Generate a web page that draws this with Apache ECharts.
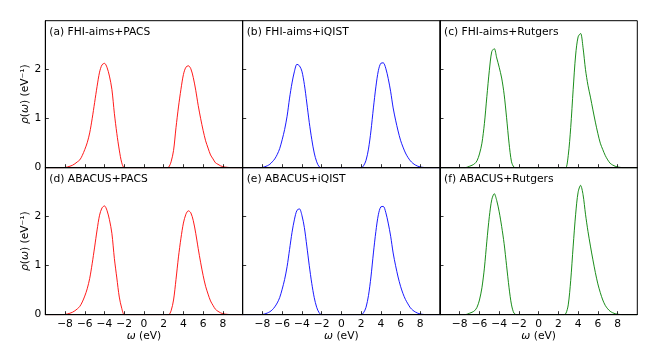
<!DOCTYPE html>
<html>
<head>
<meta charset="utf-8">
<script src="https://cdn.jsdelivr.net/npm/echarts@6/dist/echarts.min.js"></script>
<style>html,body{margin:0;padding:0;background:#fff}#c{width:664px;height:357px}</style>
</head>
<body>
<div id="c"></div>
<script>
const omega = [-10,-9.75,-9.5,-9.25,-9,-8.75,-8.5,-8.25,-8,-7.75,-7.5,-7.25,-7,-6.75,-6.5,-6.25,-6,-5.75,-5.5,-5.25,-5,-4.75,-4.5,-4.25,-4,-3.75,-3.5,-3.25,-3,-2.75,-2.5,-2.25,-2,-1.75,-1.5,-1.25,-1,-0.75,-0.5,-0.25,0,0.25,0.5,0.75,1,1.25,1.5,1.75,2,2.25,2.5,2.75,3,3.25,3.5,3.75,4,4.25,4.5,4.75,5,5.25,5.5,5.75,6,6.25,6.5,6.75,7,7.25,7.5,7.75,8,8.25,8.5,8.75,9,9.25,9.5,9.75,10];

const fhiPacs = [0,0,0,0, 0,0,0,0, 0.005,0.015,0.03,0.05, 0.08,0.12,0.16,0.25, 0.37,0.51,0.71,1.0, 1.33,1.66,1.95,2.1, 2.13,2.05,1.87,1.6, 1.11,0.7,0.36,0.1, 0,0,0,0, 0,0,0,0, 0,0,0,0, 0,0,0,0, 0,0,0.01,0.12, 0.35,0.82,1.24,1.6, 1.9,2.05,2.08,2.02, 1.84,1.58,1.27,1.0, 0.76,0.55,0.4,0.26, 0.18,0.1,0.07,0.04, 0.02,0.012,0.006,0.002, 0,0,0,0, 0];
const fhiIqist = [0,0,0,0, 0,0,0,0, 0.005,0.02,0.04,0.07, 0.12,0.18,0.27,0.39, 0.57,0.78,1.05,1.42, 1.73,1.97,2.11,2.08, 1.97,1.7,1.32,0.92, 0.58,0.3,0.12,0.02, 0,0,0,0, 0,0,0,0, 0,0,0,0, 0,0,0,0, 0,0.04,0.15,0.38, 0.75,1.22,1.65,1.98, 2.13,2.14,2.03,1.82, 1.55,1.22,0.97,0.75, 0.56,0.42,0.3,0.21, 0.14,0.09,0.055,0.03, 0.015,0.007,0.002,0, 0,0,0,0, 0];
const fhiRutgers = [0,0,0,0, 0,0,0,0, 0,0,0,0.01, 0.03,0.05,0.08,0.14, 0.28,0.5,0.9,1.45, 1.98,2.37,2.43,2.24, 2.05,1.83,1.5,1.02, 0.5,0.12,0.01,0, 0,0,0,0, 0,0,0,0, 0,0,0,0, 0,0,0,0, 0,0,0,0, 0.25,0.82,1.6,2.3, 2.67,2.74,2.45,2.0, 1.68,1.44,1.18,0.93, 0.7,0.5,0.37,0.25, 0.16,0.09,0.055,0.03, 0.015,0.007,0,0, 0,0,0,0, 0];
const abacusPacs = [0,0,0,0, 0,0,0,0, 0.005,0.016,0.03,0.05, 0.08,0.12,0.17,0.26, 0.38,0.53,0.74,1.04, 1.38,1.73,2.03,2.18, 2.22,2.13,1.94,1.66, 1.15,0.75,0.36,0.13, 0,0,0,0, 0,0,0,0, 0,0,0,0, 0,0,0,0, 0,0,0,0.08, 0.3,0.72,1.18,1.56, 1.87,2.05,2.12,2.08, 1.92,1.66,1.35,1.06, 0.8,0.58,0.42,0.28, 0.19,0.11,0.07,0.04, 0.02,0.012,0.006,0.002, 0,0,0,0, 0];
const abacusIqist = [0,0,0,0, 0,0,0,0, 0.005,0.015,0.035,0.06, 0.1,0.16,0.24,0.35, 0.52,0.72,0.98,1.33, 1.68,1.95,2.13,2.16, 2.03,1.78,1.4,1.0, 0.64,0.35,0.15,0.04, 0,0,0,0, 0,0,0,0, 0,0,0,0, 0,0,0,0, 0,0.04,0.15,0.39, 0.77,1.26,1.7,2.04, 2.2,2.21,2.09,1.87, 1.6,1.26,1.0,0.77, 0.58,0.43,0.31,0.22, 0.14,0.09,0.055,0.03, 0.015,0.007,0.002,0, 0,0,0,0, 0];
const abacusRutgers = [0,0,0,0, 0,0,0,0, 0,0,0,0.01, 0.03,0.05,0.08,0.15, 0.3,0.55,0.95,1.5, 2.0,2.35,2.47,2.33, 2.1,1.8,1.45,1.0, 0.55,0.2,0.03,0, 0,0,0,0, 0,0,0,0, 0,0,0,0, 0,0,0,0, 0,0,0,0.02, 0.2,0.7,1.4,2.05, 2.5,2.64,2.45,2.05, 1.7,1.4,1.12,0.86, 0.63,0.45,0.3,0.19, 0.12,0.07,0.04,0.02, 0.01,0.004,0,0, 0,0,0,0, 0];

const panelTitles = ['(a) FHI-aims+PACS','(b) FHI-aims+iQIST','(c) FHI-aims+Rutgers','(d) ABACUS+PACS','(e) ABACUS+iQIST','(f) ABACUS+Rutgers'];
const panelData = [fhiPacs, fhiIqist, fhiRutgers, abacusPacs, abacusIqist, abacusRutgers];
const panelColors = ['#ff0000','#0000ff','#008000','#ff0000','#0000ff','#008000'];
const xTicks = [-8,-6,-4,-2,0,2,4,6,8];
const yTicks = [0,1,2];

const FONT = 'DejaVu Sans';
const FS = 10.7;
const lefts = [45.3, 242.7, 440];
const tops = [20.7, 167.7];
const W = 197.3, H = 147;

const grid = [], xAxis = [], yAxis = [], series = [], title = [];
for (let i = 0; i < 6; i++) {
  const col = i % 3, row = Math.floor(i / 3);
  grid.push({left: lefts[col], top: tops[row], width: W, height: H, show: true, borderColor: '#000', borderWidth: 1, backgroundColor: 'transparent'});
  xAxis.push({
    type: 'value', gridIndex: i, min: -10, max: 10, interval: 2, z: 5,
    axisLine: {show: true, onZero: false, lineStyle: {color: '#000', width: 1}},
    axisTick: {show: true, inside: true, length: 3.5, customValues: xTicks, lineStyle: {color: '#000', width: 0.8}},
    axisLabel: {show: row === 1, customValues: xTicks, margin: 4, color: '#000', fontSize: FS, fontFamily: FONT,
      formatter: v => (v < 0 ? '\u2212' + (-v) : '' + v)},
    splitLine: {show: false},
    name: row === 1 ? '{i|\u03c9} (eV)' : '',
    nameLocation: 'middle', nameGap: 14,
    nameTextStyle: {color: '#000', fontSize: FS, fontFamily: FONT, rich: {i: {fontStyle: 'italic', fontSize: FS, fontFamily: FONT, color: '#000'}}}
  });
  yAxis.push({
    type: 'value', gridIndex: i, min: 0, max: 3, interval: 1, z: 5,
    axisLine: {show: true, onZero: false, lineStyle: {color: '#000', width: 1}},
    axisTick: {show: true, inside: true, length: 3.5, customValues: yTicks, lineStyle: {color: '#000', width: 0.8}},
    axisLabel: {show: col === 0, customValues: yTicks, margin: 4, color: '#000', fontSize: FS, fontFamily: FONT},
    splitLine: {show: false},
    name: col === 0 ? '{i|\u03c1}({i|\u03c9}) (eV\u207b\u00b9)' : '',
    nameLocation: 'middle', nameGap: 11, nameRotate: 90,
    nameTextStyle: {color: '#000', fontSize: FS, fontFamily: FONT, rich: {i: {fontStyle: 'italic', fontSize: FS, fontFamily: FONT, color: '#000'}}}
  });
  series.push({
    type: 'line', xAxisIndex: i, yAxisIndex: i, showSymbol: false, smooth: 0.3, z: 2,
    lineStyle: {color: panelColors[i], width: 0.9}, itemStyle: {color: panelColors[i]},
    data: omega.map((x, j) => [x, panelData[i][j]])
  });
  title.push({text: panelTitles[i], left: lefts[col] + 4, top: tops[row] + 6.5, padding: 0,
    textStyle: {fontSize: FS, fontWeight: 'normal', fontFamily: FONT, color: '#000'}});
}

const chart = echarts.init(document.getElementById('c'), null, {renderer: 'canvas'});
chart.setOption({animation: false, backgroundColor: '#fff', title, grid, xAxis, yAxis, series});
</script>
</body>
</html>
